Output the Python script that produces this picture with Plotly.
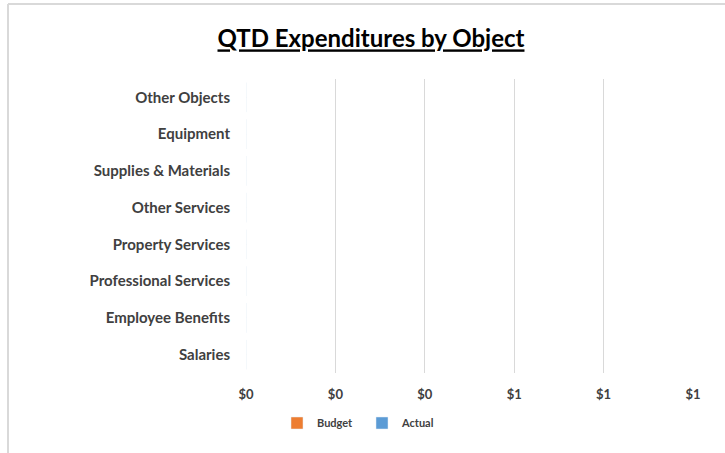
import plotly.graph_objects as go

categories = ["Salaries", "Employee Benefits", "Professional Services", "Property Services",
              "Other Services", "Supplies & Materials", "Equipment", "Other Objects"]
budget = [0, 0, 0, 0, 0, 0, 0, 0]
actual = [0, 0, 0, 0, 0, 0, 0, 0]
x_ticks = [0, 0.2, 0.4, 0.6, 0.8, 1.0]

FONT = "Lato"
TXT = "#404040"

fig = go.Figure()
fig.add_trace(go.Bar(y=categories, x=budget, name="Budget", orientation="h",
                     marker_color="#ED7D31"))
fig.add_trace(go.Bar(y=categories, x=actual, name="Actual", orientation="h",
                     marker_color="#5B9BD5"))

L, R, T, B = 246, 32, 79, 80
W, H = 725, 453
pw, ph = W - L - R, H - T - B

def px(x):
    return (x - L) / pw

def py(y):
    return (H - B - y) / ph

fig.update_layout(
    width=W, height=H,
    margin=dict(l=L, r=R, t=T, b=B),
    paper_bgcolor="white", plot_bgcolor="white",
    title=dict(text="<b><u>QTD Expenditures by Object</u></b>", x=(371 / W), xref="container",
               xanchor="center", y=(H - 39) / H, yanchor="middle",
               font=dict(family=FONT, size=24, color="black")),
    barmode="group",
    showlegend=True,
    legend=dict(orientation="h", x=px(362), xanchor="center", y=py(423), yanchor="middle",
                font=dict(family=FONT, size=11, color=TXT, weight="bold"), traceorder="normal",
                itemwidth=30, entrywidth=40, entrywidthmode="pixels"),
    xaxis=dict(range=[0, 1], tickvals=x_ticks, tickformat="$,.0f",
               showgrid=True, gridcolor="#D9D9D9", gridwidth=1, zeroline=False,
               showline=False, ticks="", ticklabelstandoff=12,
               tickfont=dict(family=FONT, size=13, color=TXT, weight="bold")),
    yaxis=dict(categoryorder="array", categoryarray=categories, showgrid=False,
               zeroline=False, showline=False, ticks="", ticklabelstandoff=15,
               tickfont=dict(family=FONT, size=15, color=TXT, weight="bold")),
    shapes=[
        dict(type="line", xref="paper", yref="paper", x0=px(8), x1=px(W + 5), y0=py(4), y1=py(4),
             line=dict(color="#D9D9D9", width=2)),
        dict(type="line", xref="paper", yref="paper", x0=px(8), x1=px(8), y0=py(4), y1=py(H + 5),
             line=dict(color="#D9D9D9", width=2)),
    ],
)

fig.write_html("out.html", config={"displayModeBar": False},
               post_script="document.body.style.margin='0';")
